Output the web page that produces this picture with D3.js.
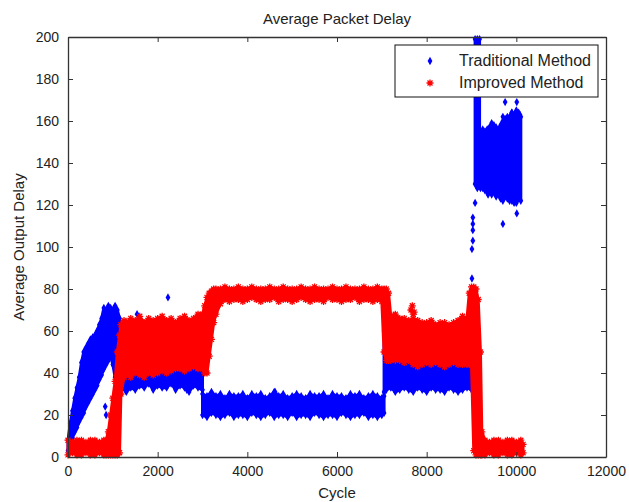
<!DOCTYPE html>
<html>
<head>
<meta charset="utf-8">
<script src="https://cdn.jsdelivr.net/npm/d3@7"></script>
<style>
  body { margin: 0; background: #fff; }
  svg { display: block; }
  text { font-family: 'Liberation Sans', Arial, sans-serif; fill: #222; }
</style>
</head>
<body>
<svg width="629" height="502"></svg>
<script>
// band envelopes (cycle, lowest and highest delay); null = gap
const tradCycle = [0, 50, 100, 150, 200, 250, 300, 350, 400, 450, 500, 550, 600, 650, 700, 750, 800, 850, 900, 950, 1000, 1050, 1100, 1150, 1200, 1300, 1400, 1500, 1600, 1700, 1800, 1900, 2000, 2100, 2200, 2300, 2400, 2500, 2600, 2700, 2800, 2900, 3000,
  3000, 3100, 3200, 3300, 3400, 3500, 3600, 3700, 3800, 3900, 4000, 4100, 4200, 4300, 4400, 4500, 4600, 4700, 4800, 4900, 5000, 5100, 5200, 5300, 5400, 5500, 5600, 5700, 5800, 5900, 6000, 6100, 6200, 6300, 6400, 6500, 6600, 6700, 6800, 6900, 7000, 7050,
  7050, 7100, 7200, 7300, 7400, 7500, 7600, 7700, 7800, 7900, 8000, 8100, 8200, 8300, 8400, 8500, 8600, 8700, 8800, 8900, 9000, null,
  9080, 9130, 9180, null,
  9200, 9250, 9300, 9350, 9400, 9450, 9500, 9550, 9600, 9650, 9700, 9750, 9800, 9850, 9900, 9950, 10000, 10050, 10100];
const tradLow = [3, 5, 9, 12, 14, 17, 19, 21, 24, 26, 28, 30, 32, 34, 37, 39, 42, 44, 46, 48, 44, 38, 34, 33, 33, 31, 33, 32, 34, 33, 35, 32, 34, 33, 33, 35, 32, 34, 33, 31, 34, 33, 32,
  20, 19, 21, 20, 19, 20, 21, 19, 20, 20, 19, 21, 20, 19, 20, 21, 19, 20, 20, 19, 21, 19, 20, 20, 19, 21, 20, 19, 20, 20, 19, 21, 20, 19, 20, 20, 21, 19, 20, 19, 20, 21,
  31, 32, 33, 31, 32, 33, 32, 31, 33, 32, 31, 33, 32, 32, 31, 33, 32, 31, 32, 33, 32, null,
  130, 128, 132, null,
  128, 128, 127, 126, 127, 125, 126, 124, 125, 123, 122, 124, 123, 122, 122, 121, 121, 123, 122];
const tradHigh = [8, 16, 22, 28, 33, 38, 45, 50, 52, 54, 56, 57, 58, 60, 63, 66, 71, 70, 72, 71, 70, 72, 70, 66, 46, 44, 45, 43, 45, 44, 46, 45, 44, 46, 45, 44, 46, 45, 44, 46, 45, 44, 43,
  30, 29, 31, 29, 30, 28, 30, 29, 29, 30, 28, 30, 29, 30, 28, 29, 31, 29, 30, 28, 29, 30, 29, 28, 30, 29, 29, 30, 28, 30, 29, 29, 28, 30, 29, 30, 28, 29, 30, 29, 28, 29,
  60, 54, 52, 50, 51, 50, 49, 51, 50, 49, 50, 51, 49, 50, 50, 49, 51, 50, 49, 50, 50, null,
  199, 199, 199, null,
  150, 156, 155, 156, 157, 159, 158, 157, 156, 158, 160, 161, 162, 162, 164, 163, 165, 164, 162];
const tradOutCycle = [830, 850, 1540, 2230, 2650, 4620, 9010, 9010, 9030, 9030, 9030, 9030, 9080, 9120, 9370, 9700, 9750, 9900, 10010, 10010, 10080, 9700];
const tradOutDelay = [24, 20, 68, 76, 32, 31, 85, 99, 103, 108, 111, 114, 121, 131, 125, 162, 169, 164, 169, 116, 163, 111];

const imprCycle = [0, 100, 200, 300, 400, 500, 600, 700, 800, 850, 900, 950, 1000, 1050, 1100, 1150, 1180, 1250, 1300, 1400, 1500, 1600, 1700, 1800, 1900, 2000, 2100, 2200, 2300, 2400, 2500, 2600, 2700, 2800, 2900, 3000,
  3050, 3100, 3150, 3200, 3250, 3300, 3400, 3500, 3600, 3700, 3800, 3900, 4000, 4100, 4200, 4300, 4400, 4500, 4600, 4700, 4800, 4900, 5000, 5100, 5200, 5300, 5400, 5500, 5600, 5700, 5800, 5900, 6000, 6100, 6200, 6300, 6400, 6500, 6600, 6700, 6800, 6900, 7000,
  7050, 7100, 7150, 7200, 7300, 7400, 7500, 7600, 7700, 7800, 7900, 8000, 8100, 8200, 8300, 8400, 8500, 8600, 8700, 8800, 8900, 8950, 9000, 9050, 9100, 9150, 9200, 9230,
  9300, 9400, 9500, 9600, 9700, 9800, 9900, 10000, 10100, 10150];
const imprLow = [1, 2, 1, 1, 2, 1, 1, 2, 1, 1, 1, 1, 1, 1, 1, 2, 30, 38, 39, 38, 40, 39, 38, 40, 39, 40, 41, 40, 41, 42, 42, 41, 42, 43, 42, 42,
  40, 40, 48, 56, 64, 68, 73, 75, 74, 75, 75, 74, 75, 76, 75, 74, 75, 75, 76, 74, 75, 75, 74, 75, 76, 75, 74, 75, 75, 74, 76, 75, 75, 74, 75, 75, 76, 74, 75, 75, 74, 75, 74,
  50, 46, 46, 46, 46, 46, 45, 46, 44, 43, 44, 45, 44, 45, 44, 43, 44, 45, 44, 44, 44, 44, 44, 3, 1, 1, 1, 1,
  1, 2, 1, 1, 2, 1, 1, 2, 1, 2];
const imprHigh = [8, 7, 8, 8, 7, 8, 8, 7, 8, 8, 12, 20, 28, 36, 50, 58, 63, 65, 64, 66, 65, 67, 64, 66, 65, 66, 67, 65, 66, 64, 66, 67, 65, 66, 68, 68,
  72, 76, 78, 79, 80, 80, 80, 81, 80, 80, 81, 80, 80, 81, 80, 80, 80, 81, 80, 80, 81, 80, 80, 80, 81, 80, 80, 81, 80, 80, 80, 81, 80, 80, 81, 80, 80, 80, 81, 80, 80, 81, 80,
  80, 80, 78, 67, 68, 66, 66, 65, 66, 65, 64, 64, 65, 63, 64, 64, 63, 64, 65, 67, 66, 78, 81, 81, 80, 75, 50, 12,
  8, 7, 8, 8, 7, 8, 8, 7, 8, 6];
const imprOutCycle = [7650, 7680, 7720, 7700];
const imprOutDelay = [70, 72, 69, 68];

const seriesNames = ['Traditional Method', 'Improved Method'];
const xTicks = [0, 2000, 4000, 6000, 8000, 10000, 12000];
const yTicks = [0, 20, 40, 60, 80, 100, 120, 140, 160, 180, 200];

const svg = d3.select('svg');
const margin = { left: 68, right: 606, top: 37, bottom: 457 };

const x = d3.scaleLinear().domain([0, 12000]).range([margin.left, margin.right]);
const y = d3.scaleLinear().domain([0, 200]).range([margin.bottom, margin.top]);

svg.append('rect').attr('width', 629).attr('height', 502).attr('fill', '#fff');

const rows = (cyc, lo, hi) => cyc.map((c, i) => ({ c, lo: lo[i], hi: hi[i] }));
const tradRows = rows(tradCycle, tradLow, tradHigh);
const imprRows = rows(imprCycle, imprLow, imprHigh);

const area = d3.area()
  .defined(d => d.c !== null)
  .x(d => x(d.c))
  .y0(d => y(d.lo))
  .y1(d => y(d.hi));

const diamond = d3.symbol().type(d3.symbolDiamond).size(20);
const star = 'M-3.5,0H3.5M0,-3.5V3.5M-2.5,-2.5L2.5,2.5M-2.5,2.5L2.5,-2.5';

const plot = svg.append('g');

const drawSeries = (data, outC, outD, color, marker) => {
  const g = plot.append('g');
  g.append('path')
    .datum(data)
    .attr('d', area)
    .attr('fill', color)
    .attr('stroke', color)
    .attr('stroke-width', 3)
    .attr('stroke-linejoin', 'round');
  const pts = [];
  data.filter(d => d.c !== null).forEach((d) => {
    pts.push([d.c, d.lo]);
    pts.push([d.c, d.hi]);
  });
  outC.forEach((c, i) => pts.push([c, outD[i]]));
  const m = g.selectAll('.m').data(pts).enter().append('path')
    .attr('class', 'm')
    .attr('transform', d => `translate(${x(d[0])},${y(d[1])})`);
  if (marker === 'diamond') {
    m.attr('d', diamond).attr('fill', color);
  } else {
    m.attr('d', star).attr('stroke', color).attr('stroke-width', 1.3).attr('fill', 'none');
  }
};

drawSeries(tradRows, tradOutCycle, tradOutDelay, '#0000ff', 'diamond');
drawSeries(imprRows, imprOutCycle, imprOutDelay, '#ff0000', 'star');

// axes box with inward ticks on all sides
const axisColor = '#333';
const styleAxis = (g) => {
  g.select('.domain').attr('stroke', axisColor).attr('stroke-width', 1.3);
  g.selectAll('.tick line').attr('stroke', axisColor);
  g.selectAll('.tick text').attr('font-size', 14).attr('fill', '#222')
    .attr('font-family', "'Liberation Sans', Arial, sans-serif");
};

svg.append('g')
  .attr('transform', `translate(0,${margin.bottom})`)
  .call(d3.axisBottom(x).tickValues(xTicks).tickFormat(d3.format('d'))
    .tickSizeInner(-5).tickSizeOuter(0).tickPadding(9))
  .call(styleAxis);
svg.append('g')
  .attr('transform', `translate(0,${margin.top})`)
  .call(d3.axisTop(x).tickValues(xTicks).tickSizeInner(-5).tickSizeOuter(0).tickFormat(''))
  .call(styleAxis);
svg.append('g')
  .attr('transform', `translate(${margin.left},0)`)
  .call(d3.axisLeft(y).tickValues(yTicks).tickFormat(d3.format('d'))
    .tickSizeInner(-5).tickSizeOuter(0).tickPadding(9))
  .call(styleAxis);
svg.append('g')
  .attr('transform', `translate(${margin.right},0)`)
  .call(d3.axisRight(y).tickValues(yTicks).tickSizeInner(-5).tickSizeOuter(0).tickFormat(''))
  .call(styleAxis);

// titles
svg.append('text')
  .attr('x', (margin.left + margin.right) / 2)
  .attr('y', 24)
  .attr('text-anchor', 'middle')
  .attr('font-size', 15)
  .text('Average Packet Delay');
svg.append('text')
  .attr('x', (margin.left + margin.right) / 2)
  .attr('y', 498)
  .attr('text-anchor', 'middle')
  .attr('font-size', 15)
  .text('Cycle');
svg.append('text')
  .attr('transform', `translate(24,${(margin.top + margin.bottom) / 2}) rotate(-90)`)
  .attr('text-anchor', 'middle')
  .attr('font-size', 15)
  .text('Average Output Delay');

// legend
const legend = svg.append('g');
legend.append('rect')
  .attr('x', 395).attr('y', 45).attr('width', 203).attr('height', 52)
  .attr('fill', '#fff').attr('stroke', '#111').attr('stroke-width', 1);
legend.append('path')
  .attr('transform', 'translate(430,61)')
  .attr('d', diamond)
  .attr('fill', '#0000ff');
legend.append('path')
  .attr('transform', 'translate(430,83)')
  .attr('d', star)
  .attr('stroke', '#ff0000').attr('stroke-width', 1.3).attr('fill', 'none');
legend.selectAll('.lt').data(seriesNames).enter().append('text')
  .attr('class', 'lt')
  .attr('x', 459)
  .attr('y', (d, i) => 66 + i * 22)
  .attr('font-size', 16)
  .text(d => d);
</script>
</body>
</html>
